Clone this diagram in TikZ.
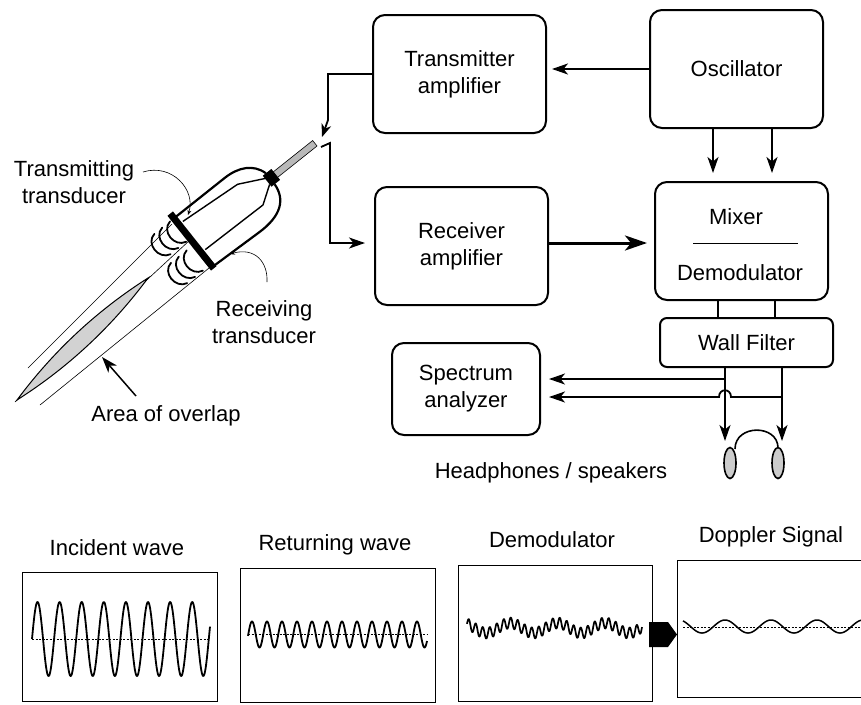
\documentclass[tikz,border=0pt]{standalone}
\usepackage{fontspec}
\setmainfont{Liberation Sans}
\usetikzlibrary{arrows.meta,shapes.geometric}
\begin{document}
\begin{tikzpicture}[x=1pt,y=-1pt,
  txt/.style={font=\fontsize{22}{27}\selectfont, align=center, inner sep=0pt},
  blk/.style={draw, line width=2pt, rounded corners=12pt, txt, minimum width=173pt, minimum height=118pt},
  arr/.style={line width=1.8pt, -{Stealth[length=16pt,width=11pt,inset=4.5pt]}},
  wire/.style={line width=1.8pt},
  lead/.style={line width=0.6pt, -{Stealth[length=5pt,width=4pt]}},
  shell/.style={line width=2.2pt, line join=round},
  wfront/.style={line width=1.8pt, line cap=round},
  beam/.style={line width=0.6pt},
  frame/.style={line width=0.8pt},
  trace/.style={line width=1.8pt, line join=round},
  zero/.style={line width=0.5pt, dash pattern=on 2pt off 1.5pt},
  ear/.style={ellipse, draw, line width=1.6pt, fill=gray!40, minimum width=12pt, minimum height=31pt, inner sep=0pt}
]
\useasboundingbox (0,0) rectangle (861,704);

% ---------- signal chain blocks ----------
\node[blk] (tx)  at (459.5,74)  {Transmitter\\amplifier};
\node[blk] (osc) at (736.5,69)  {Oscillator};
\node[blk] (rx)  at (461.5,246) {Receiver\\amplifier};
\node[blk] (mix) at (741.5,241) {};
\node[txt] (mixa) at (736,217) {Mixer};
\node[txt] (mixb) at (740,273) {Demodulator};
\draw[line width=0.8pt] (693,243) -- (798,243);
\node[draw, line width=2pt, rounded corners=7pt, txt, minimum width=173pt, minimum height=49pt] (wf) at (746.5,342.5) {Wall Filter};
\node[blk, minimum width=148pt, minimum height=92pt] (spec) at (466,389) {Spectrum\\analyzer};

% helper coordinates for vertical / horizontal runs
\coordinate (oa) at (713,0);
\coordinate (ob) at (772,0);
\coordinate (ma) at (718,0);
\coordinate (mb) at (775,0);
\coordinate (wa) at (725,0);
\coordinate (wb) at (782,0);
\coordinate (ry) at (0,243);
\coordinate (sy1) at (0,379);
\coordinate (sy2) at (0,397);
\coordinate (hpa) at (725,441);
\coordinate (hpb) at (782,441);

% oscillator feeds
\draw[arr, shorten >=5pt] (osc.west) -- (tx.east |- osc.west);
\draw[arr, shorten >=8pt] (osc.south -| oa) -- (mix.north -| oa);
\draw[arr, shorten >=8pt] (osc.south -| ob) -- (mix.north -| ob);

% receiver to mixer (heavy line)
\draw[line width=3pt, -{Stealth[length=22pt,width=15pt,inset=6pt]}, shorten >=7pt] (rx.east |- ry) -- (mix.west |- ry);

% mixer to wall filter
\draw[wire] (mix.south -| ma) -- (wf.north -| ma);
\draw[wire] (mix.south -| mb) -- (wf.north -| mb);

% wall filter outputs
\draw[arr] (wf.south -| wa) -- (hpa);
\draw[arr] (wf.south -| wb) -- (hpb);
\draw[arr, shorten >=8pt] (wa |- sy1) -- (spec.east |- sy1);
\draw[arr, shorten >=8pt] (wb |- sy2) -- (731,397) .. controls (731,388) and (719,388) .. (719,397) -- (spec.east |- sy2);

% headphones
\draw[line width=1.6pt] (735,449) .. controls (735,424) and (778,424) .. (778,448);
\node[ear] (earL) at (730,463) {};
\node[ear] (earR) at (778,463) {};
\node[txt, anchor=base] (hp) at (551,478) {Headphones / speakers};

% ---------- probe ----------
% beam edges and overlap zone
\draw[beam] (172,224) -- (28,368);
\draw[beam] (214,264) -- (40,405);
\draw[beam] (190,240) -- (15,402);
\draw[line width=1pt, fill=gray!35] (148,278) .. controls (96.8,310.6) and (53.2,351.3) .. (17,400)
   .. controls (68.2,367.4) and (111.8,326.8) .. (148,278) -- cycle;

\begin{scope}[shift={(192,241)}, rotate=38.5]
  % housing
  \draw[shell] (0,-29) -- (65,-29) .. controls (82,-29) and (96,-22) .. (100,-7);
  \draw[shell] (0,33) -- (58,35) .. controls (86,36) and (99,25) .. (100,7);
  % inner crystals
  \draw[line width=1.4pt, line join=round] (5,-21) -- (71,-16) -- (99,-2);
  \draw[line width=1.4pt, line join=round] (5,15) -- (78,16) -- (96,4);
  % cable and connector
  \draw[line width=0.6pt, fill=gray!55] (106,-3.5) rectangle (157,3.5);
  \fill (96,-7) rectangle (107,7);
  % front face
  \fill (-3.5,-35) rectangle (3.5,35);
  % wave fronts
  \foreach \u in {-5,-15,-25}
    \draw[wfront] (\u,-29) .. controls (\u-13,-27) and (\u-13,-6) .. (\u,-3);
  \foreach \u in {-10,-20,-30}
    \draw[wfront] (\u,4) .. controls (\u-13,6) and (\u-13,27) .. (\u,30);
\end{scope}

\coordinate (cabT) at (322,137);
\coordinate (cabR) at (321,147);
\draw[line width=1.8pt, -{Stealth[length=13pt,width=10pt,inset=4pt]}] (tx.west) -- (328,74) -- (328,120) -- (cabT);
\draw[arr, shorten >=9pt] (cabR) -- (330,143) |- (rx.west |- ry);

% probe labels
\node[txt] (ttx) at (74,182) {Transmitting\\transducer};
\node[txt] (trx) at (264,322) {Receiving\\transducer};
\node[txt, anchor=base] (aoo) at (166,421) {Area of overlap};
\coordinate (tl0) at (143,172);
\coordinate (tl1) at (188,215);
\coordinate (rl0) at (267,282);
\coordinate (rl1) at (230,254);
\coordinate (ao0) at (136,396);
\coordinate (ao1) at (102,357);
\draw[lead] (tl0) .. controls (172,163) and (196,190) .. (tl1);
\draw[lead] (rl0) .. controls (268,262) and (255,247) .. (rl1);
\draw[arr, line width=1.5pt] (ao0) -- (ao1);

% ---------- waveform panels ----------
\node[txt, anchor=base] (t1) at (117,555) {Incident wave};
\node[txt, anchor=base] (t2) at (335,550) {Returning wave};
\node[txt, anchor=base] (t3) at (552,547) {Demodulator};
\node[txt, anchor=base] (t4) at (771,542) {Doppler Signal};

\draw[frame] (22,572) rectangle (217,701);
\draw[frame] (240,568) rectangle (435,702);
\draw[frame] (458,565) rectangle (652,701);
\draw[frame] (861,560) -- (677,560) -- (677,697) -- (861,697);

\draw[zero] (32,639) -- (210,639);
\draw[trace] plot[domain=32:210, samples=400, smooth] (\x, {639-37*sin((\x-32)/22.1*360)});

\draw[zero] (248,634) -- (427,634);
\draw[trace] plot[domain=248:427, samples=500, smooth] (\x, {634.5-13*sin((\x-248.25)/15*360)});

\draw[trace, line width=1.7pt] plot[domain=467:642, samples=600, smooth] (\x, {628-5*cos((\x-510)/47.5*360)-5.5*sin((\x-467)/7*360)});

\fill (649,622) -- (668,622) -- (677,634.5) -- (668,647) -- (649,647) -- cycle;

\draw[zero] (683,627) -- (861,627);
\draw[trace, line width=1.5pt] plot[domain=683:861, samples=300, smooth] (\x, {626.5+6.5*cos((\x-702)/46*360)});
\end{tikzpicture}
\end{document}
